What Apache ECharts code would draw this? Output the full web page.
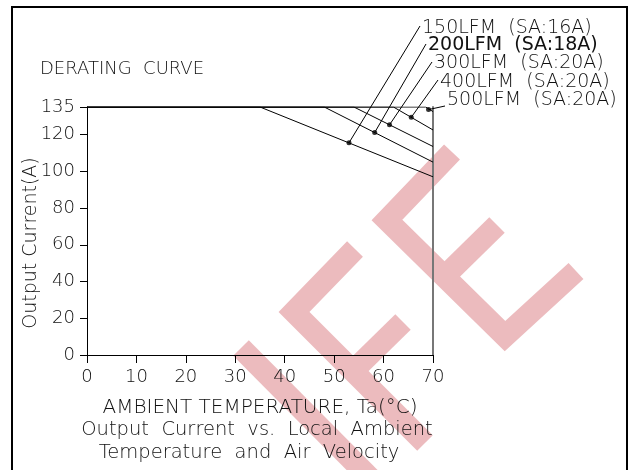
<!DOCTYPE html>
<html>
<head>
<meta charset="utf-8">
<script src="https://cdn.jsdelivr.net/npm/echarts@6/dist/echarts.min.js"></script>
<style>
html,body{margin:0;padding:0;background:#fff;}
#main{width:631px;height:470px;}
</style>
</head>
<body>
<div id="main"></div>
<script>
// ---- data ----
const curveNames = ['150LFM', '200LFM', '300LFM', '400LFM', '500LFM'];
const curveSA = ['SA:16A', 'SA:18A', 'SA:20A', 'SA:20A', 'SA:20A'];
const startTemp = [0, 0, 0, 0, 0];
const startCurrent = [135, 135, 135, 135, 135];
const kneeTemp = [35, 48, 54, 62, 68.5];
const kneeCurrent = [135, 135, 135, 135, 135];
const endTemp = [70, 70, 70, 70, 70];
const endCurrent = [97, 105, 113.5, 122.5, 132.5];
const markerTemp = [53, 58.2, 61.2, 65.6, 69.1];
const markerCurrent = [115.5, 121.1, 125.3, 129.4, 133.6];
const xTicks = [0, 10, 20, 30, 40, 50, 60, 70];
const yTicks = [0, 20, 40, 60, 80, 100, 120, 135];

const FONT = '"DejaVu Sans", sans-serif';
const chart = echarts.init(document.getElementById('main'));

const lineSeries = curveNames.map((n, i) => ({
  name: n,
  type: 'line',
  data: [[startTemp[i], startCurrent[i]], [kneeTemp[i], kneeCurrent[i]], [endTemp[i], endCurrent[i]]],
  symbol: 'none',
  lineStyle: { color: '#000', width: 1 },
  silent: true,
  z: 3
}));

const markerSeries = {
  type: 'scatter',
  data: markerTemp.map((t, i) => [t, markerCurrent[i]]),
  symbolSize: 5,
  itemStyle: { color: '#000' },
  z: 5
};

chart.setOption({
  animation: false,
  backgroundColor: '#fff',
  grid: { left: 87, right: 198, top: 107, bottom: 115, containLabel: false },
  xAxis: {
    type: 'value', min: 0, max: 70, interval: 10,
    name: 'AMBIENT TEMPERATURE, Ta(°C)', nameLocation: 'middle', nameGap: 43,
    nameTextStyle: { fontFamily: FONT, fontSize: 20, color: '#111', fontWeight: 200 },
    axisLine: { show: true, lineStyle: { color: '#000', width: 1 } },
    axisTick: { show: true, inside: false, length: 8, lineStyle: { color: '#000' } },
    axisLabel: { fontFamily: FONT, fontSize: 18, color: '#111', margin: 13, fontWeight: 200,
      customValues: xTicks },
    splitLine: { show: false }
  },
  yAxis: [{
    type: 'value', min: 0, max: 135, interval: 20,
    name: 'Output Current(A)', nameLocation: 'middle', nameGap: 46, nameRotate: 90,
    nameMoveOverlap: false,
    nameTextStyle: { fontFamily: FONT, fontSize: 19, color: '#111', fontWeight: 200, padding: [0, 24, 0, 0] },
    axisLine: { show: true, lineStyle: { color: '#000', width: 1 } },
    axisTick: { show: true, inside: false, length: 7, lineStyle: { color: '#000' } },
    axisLabel: { fontFamily: FONT, fontSize: 18, color: '#111', margin: 12, fontWeight: 200,
      customValues: yTicks },
    splitLine: { show: false }
  }, {
    type: 'value', min: 0, max: 135, position: 'right',
    axisLine: { show: true, lineStyle: { color: '#777', width: 2 } },
    axisTick: { show: false }, axisLabel: { show: false }, splitLine: { show: false }
  }],
  series: lineSeries.concat([markerSeries])
});

// ---- annotations (layout) ----
const labelPos = [[422, 28], [428, 45], [434, 63], [440, 82], [447, 100]];
const leaderEnd = [[420, 26], [426, 44], [432, 62], [438, 80], [445, 106]];
const graphics = [];

// frame
graphics.push({ type: 'rect', shape: { x: 12, y: 7, width: 615, height: 490 },
  style: { fill: null, stroke: '#000', lineWidth: 2 }, z: 10, silent: true });

// watermark
const wm = { stroke: '#ECBBBE', lineWidth: 22, fill: null, lineJoin: 'miter', lineCap: 'butt' };
[
  [[241, 348], [372, 480]],
  [[355, 249], [294, 312], [425, 443]],
  [[353, 371], [403, 322]],
  [[452, 152], [387, 220], [505, 336], [576, 271]],
  [[444, 277], [497, 225]]
].forEach(pts => graphics.push({ type: 'polyline', shape: { points: pts }, style: wm, z: -10, silent: true }));

// title and captions
graphics.push({ type: 'text', x: 40, y: 69, style: { text: 'DERATING  CURVE', font: '200 18px ' + FONT, fill: '#111', textVerticalAlign: 'middle' }, z: 10 });
graphics.push({ type: 'text', x: 257, y: 430, style: { text: 'Output  Current  vs.  Local  Ambient', font: '200 19.5px ' + FONT, fill: '#111', textAlign: 'center', textVerticalAlign: 'middle' }, z: 10 });
graphics.push({ type: 'text', x: 249, y: 453, style: { text: 'Temperature  and  Air  Velocity', font: '200 19.5px ' + FONT, fill: '#111', textAlign: 'center', textVerticalAlign: 'middle' }, z: 10 });

curveNames.forEach((n, i) => {
  const p = chart.convertToPixel({ gridIndex: 0 }, [markerTemp[i], markerCurrent[i]]);
  graphics.push({ type: 'polyline', shape: { points: [p, leaderEnd[i]] },
    style: { stroke: '#000', lineWidth: 1, fill: null }, z: 10, silent: true });
  graphics.push({ type: 'text', x: labelPos[i][0], y: labelPos[i][1],
    style: { text: n + '  (' + curveSA[i] + ')', font: (i === 1 ? 'normal' : '200') + ' 19px ' + FONT,
      fill: '#111', textVerticalAlign: 'middle' }, z: 10 });
});

chart.setOption({ graphic: graphics });
</script>
</body>
</html>
